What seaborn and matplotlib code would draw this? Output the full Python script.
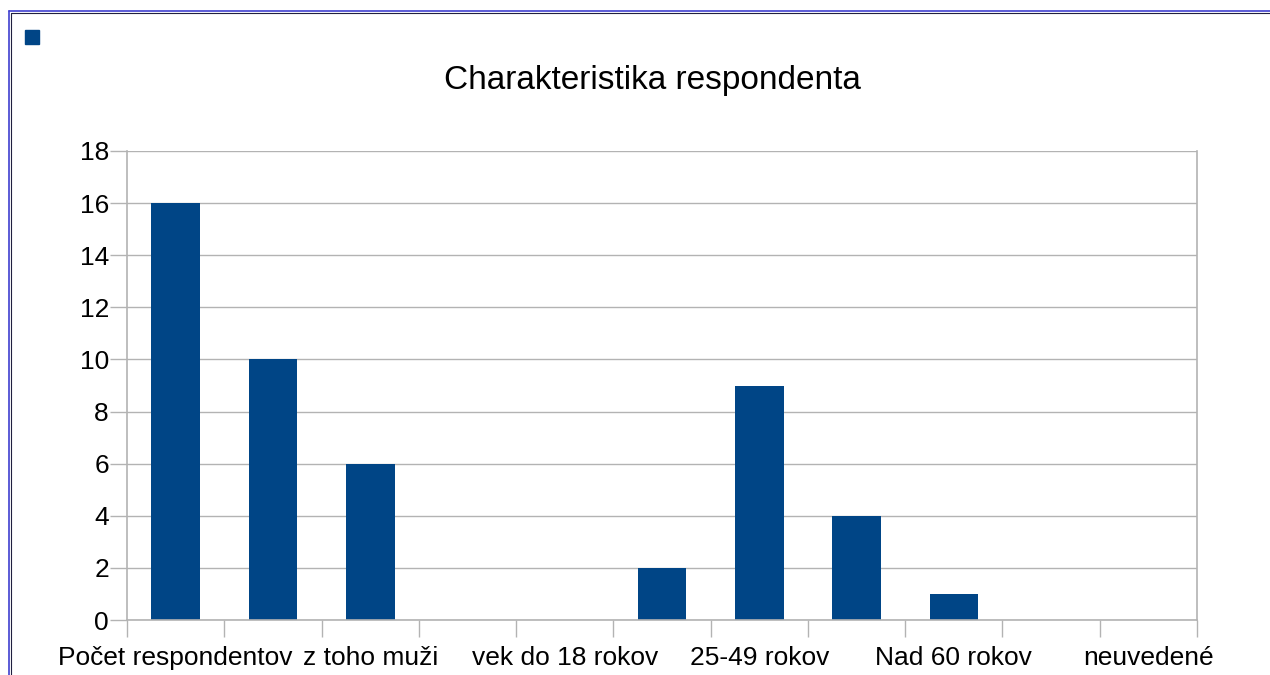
import matplotlib
matplotlib.use('Agg')
import matplotlib.pyplot as plt
from matplotlib.lines import Line2D
from matplotlib.patches import Rectangle
import pandas as pd
import seaborn as sns


CATEGORIES = ['Počet respondentov', 'z toho ženy', 'z toho muži', 'vek',
              'vek do 18 rokov', '18-24 rokov', '25-49 rokov', '50-60 rokov',
              'Nad 60 rokov', 'nezistené', 'neuvedené']
VALUES = [16, 10, 6, 0, 0, 2, 9, 4, 1, 0, 0]
SHOWN = [True, False, True, False, True, False, True, False, True, False, True]
YTICKS = [0, 2, 4, 6, 8, 10, 12, 14, 16, 18]
TITLE = 'Charakteristika respondenta'

BAR_COLOR = '#004586'
GRID_COLOR = '#b3b3b3'
W, H = 1270, 675


if __name__ == '__main__':
    df = pd.DataFrame({'kategoria': CATEGORIES, 'pocet': VALUES})

    sns.set_style('white')
    plt.rcParams['font.family'] = ['Liberation Sans', 'DejaVu Sans']
    plt.rcParams['text.color'] = 'black'
    plt.rcParams['xtick.labelcolor'] = 'black'
    plt.rcParams['ytick.labelcolor'] = 'black'

    fig = plt.figure(figsize=(W / 100, H / 100), dpi=100)
    ax = fig.add_axes([127 / W, 1 - 620 / H, (1197 - 127) / W, (620 - 151) / H])

    sns.barplot(data=df, x='kategoria', y='pocet', order=CATEGORIES,
                color=BAR_COLOR, saturation=1, width=0.5, linewidth=0, ax=ax)

    ax.set_xlim(-0.5, len(CATEGORIES) - 0.5)
    ax.set_ylim(0, 18)
    ax.set_yticks(YTICKS)
    ax.set_yticklabels([str(v) for v in YTICKS], fontsize=19, color='black')
    ax.set_xticks(range(len(CATEGORIES)))
    ax.set_xticklabels([c if s else '' for c, s in zip(CATEGORIES, SHOWN)],
                       fontsize=19, color='black')
    ax.set_xticks([i - 0.5 for i in range(len(CATEGORIES) + 1)], minor=True)
    ax.tick_params(axis='x', which='major', length=0, pad=19)
    ax.tick_params(axis='x', which='minor', length=12, color=GRID_COLOR,
                   width=1, bottom=True)
    ax.tick_params(axis='y', length=12, color=GRID_COLOR, width=1, left=True,
                   pad=1)
    ax.set_xlabel('')
    ax.set_ylabel('')
    ax.yaxis.grid(True, color=GRID_COLOR, linewidth=1)
    ax.set_axisbelow(True)
    for side in ['left', 'right', 'bottom']:
        ax.spines[side].set_color(GRID_COLOR)
        ax.spines[side].set_linewidth(1.2)
    ax.spines['top'].set_visible(False)

    fig.text(652 / W, 1 - 80 / H, TITLE, ha='center', va='center',
             fontsize=24, color='black')

    # legend square without text
    fig.add_artist(Rectangle((25 / W, 1 - 44 / H), 14 / W, 14 / H,
                             transform=fig.transFigure, color=BAR_COLOR))

    # frame lines at top and left
    fig.add_artist(Line2D([8.8 / W, 1], [1 - 11.3 / H] * 2,
                          transform=fig.transFigure, color='#4040d0', lw=1.2))
    fig.add_artist(Line2D([10.5 / W, 1], [1 - 13 / H] * 2,
                          transform=fig.transFigure, color='#202040', lw=0.8))
    fig.add_artist(Line2D([8.8 / W] * 2, [0, 1 - 11.3 / H],
                          transform=fig.transFigure, color='#4040d0', lw=1.2))
    fig.add_artist(Line2D([10.5 / W] * 2, [0, 1 - 13 / H],
                          transform=fig.transFigure, color='#202040', lw=0.8))

    fig.savefig('out.png', dpi=100)
